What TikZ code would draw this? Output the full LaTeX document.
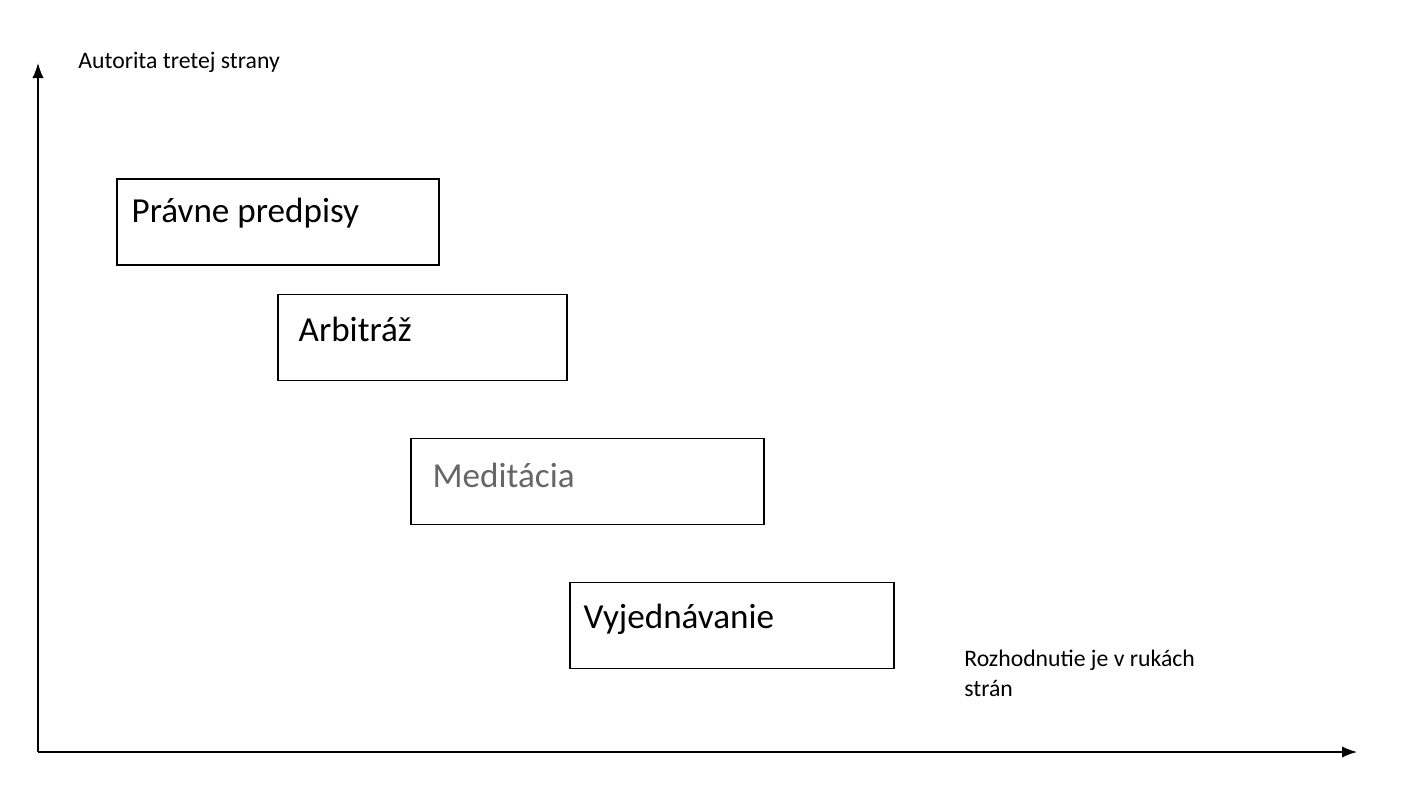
\documentclass[tikz,border=0pt]{standalone}
\usepackage{fontspec}
\setmainfont{Carlito}
\usetikzlibrary{arrows.meta,calc,positioning}
\tikzset{
    stage/.style={draw, thick, minimum height=1.72cm, inner sep=0pt},
    stagetext/.style={anchor=west, font=\fontsize{20}{24}\selectfont, inner sep=0pt},
    axislabel/.style={font=\fontsize{13.5}{17}\selectfont, inner sep=0pt, align=left}
}
\begin{document}
\begin{tikzpicture}[x=0.02cm, y=-0.02cm, >={Latex[length=3mm]}]
\useasboundingbox (0,0) rectangle (1403,806);
% axes
\coordinate (o) at (38,752);
\coordinate (ytop) at (38,63);
\coordinate (xend) at (1357,752);
\draw[thick,->] (o) -- (ytop);
\draw[thick,->] (o) -- (xend);
\node[axislabel, anchor=west] (ylab) at (78,62) {Autorita tretej strany};
\node[axislabel, anchor=north west] (xlab) at (964,650) {Rozhodnutie je v rukách\\strán};
% stages
\node[stage, minimum width=6.44cm] (law) at (278,222) {};
\node[stage, minimum width=5.78cm] (arb) at (422.5,337.5) {};
\node[stage, minimum width=7.06cm] (med) at (587.5,481.5) {};
\node[stage, minimum width=6.48cm] (neg) at (732,625.5) {};
\node[stagetext] (lawt) at ($(law.west)+(15,-9)$) {Právne predpisy};
\node[stagetext] (arbt) at ($(arb.west)+(21,-8)$) {Arbitráž};
\node[stagetext, text=black!60] (medt) at ($(med.west)+(22,-6)$) {Meditácia};
\node[stagetext] (negt) at ($(neg.west)+(14,-6)$) {Vyjednávanie};
\end{tikzpicture}
\end{document}
